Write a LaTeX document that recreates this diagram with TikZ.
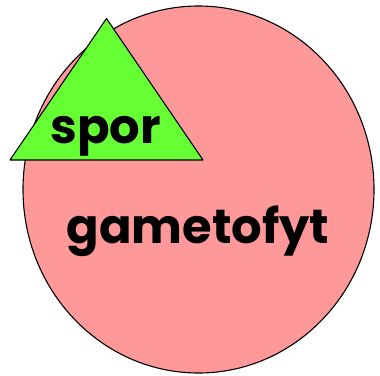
\documentclass[tikz,border=0pt]{standalone}
\usepackage{fontspec}
\setmainfont{Poppins}[BoldFont={Poppins Bold}]
\begin{document}
\begin{tikzpicture}[x=1pt,y=-1pt,
    outline/.style={draw=black, line width=1.1pt, line join=round},
    label/.style={font=\bfseries\fontsize{48}{48}\selectfont, inner sep=0pt, anchor=base}]
  \useasboundingbox (0,0) rectangle (380,375);
  % gametophyte body
  \path[outline, fill={rgb,255:red,255;green,153;blue,153}]
    (198.5,189.5) ellipse [x radius=175.5, y radius=183.5];
  % spore triangle on top
  \path[outline, fill={rgb,255:red,102;green,255;blue,51}]
    (106.5,18.5) -- (203,160) -- (10,160) -- cycle;
  \node[label] (spor) at (105.5,143) {spor};
  \node[label] (gametofyt) at (198,243) {gametofyt};
\end{tikzpicture}
\end{document}
